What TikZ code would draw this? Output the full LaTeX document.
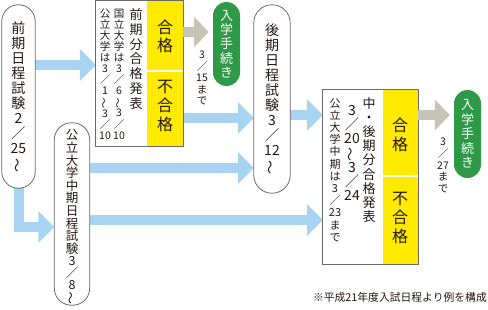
\documentclass[tikz,border=0pt]{standalone}
\usepackage{fontspec}
\setmainfont{Noto Sans CJK JP}
\usepackage{graphicx}
\usetikzlibrary{arrows.meta}
\definecolor{bluec}{HTML}{A8D4F2}
\definecolor{grayc}{HTML}{C5C4B6}
\definecolor{yel}{HTML}{FFEA00}
\definecolor{grn}{HTML}{2E9A47}
\definecolor{edgec}{HTML}{6A6A6A}
\definecolor{txt}{HTML}{231815}
\newcommand{\tld}{\rotatebox[origin=c]{90}{～}}
\newcommand{\myfs}[2]{\fontsize{#1}{#2}\selectfont\lineskiplimit=-20pt\lineskip=0pt}
\begin{document}
\begin{tikzpicture}[x=1pt,y=-1pt,
  box/.style={draw=edgec, line width=0.8pt, fill=white, inner sep=0pt, rectangle},
  gpill/.style={fill=grn, inner sep=0pt, rectangle, rounded corners=13.5pt, minimum width=27pt},
  yelbox/.style={fill=yel, inner sep=0pt, rectangle, minimum width=36pt},
  vt/.style={inner sep=0pt, align=center, text=txt},
  bluearr/.style={draw=bluec, line width=10pt, -{Triangle[length=16pt,width=31pt]}},
  grayarr/.style={draw=grayc, line width=10pt, -{Triangle[length=15pt,width=30pt]}, shorten >=4pt}]
\useasboundingbox (0,0) rectangle (488,309);

% box placeholders (for names)
\path node[minimum width=33pt, minimum height=183pt, inner sep=0pt] (A) at (18.5,96.5) {};
\path node[minimum width=35pt, minimum height=182pt, inner sep=0pt] (B) at (72,214) {};
\path node[minimum width=87pt, minimum height=145pt, inner sep=0pt] (C) at (139.5,73.5) {};
\path node[minimum width=36pt, minimum height=188pt, inner sep=0pt] (D) at (272,99) {};
\path node[minimum width=95pt, minimum height=174pt, inner sep=0pt] (E) at (370.5,177) {};

% arrows (below boxes)
\draw[bluearr] (A.east |- 0,65) -- (C.west |- 0,65);
\draw[bluearr] (C.east |- 0,118) -- (D.west |- 0,118);
\draw[bluearr] (B.east |- 0,168) -- (D.west |- 0,168);
\draw[bluearr] (D.east |- 0,115) -- (E.west |- 0,115);
\draw[bluearr] (B.east |- 0,220) -- (E.west |- 0,220);
\draw[bluearr] (A.south) |- (B.west |- 0,227);

% boxes
\draw[box, rounded corners=16.5pt] (A.north west) rectangle (A.south east);
\draw[box, rounded corners=17pt] (B.north west) rectangle (B.south east);
\draw[box, rounded corners=18pt] (D.north west) rectangle (D.south east);
\draw[box] (C.north west) rectangle (C.south east);
\draw[box] (E.north west) rectangle (E.south east);

% yellow parts
\node[yelbox, minimum height=145pt] (Cy) at (165,73.5) {};
\draw[white, line width=1.5pt] (Cy.west |- 0,71) -- (Cy.east |- 0,71);
\node[yelbox, minimum height=174pt, minimum width=35pt] (Ey) at (400.5,177) {};
\draw[white, line width=1.5pt] (Ey.west |- 0,176) -- (Ey.east |- 0,176);
\draw[draw=edgec, line width=0.8pt] (C.north west) rectangle (C.south east);
\draw[draw=edgec, line width=0.8pt] (E.north west) rectangle (E.south east);

% green boxes
\node[gpill, minimum height=84pt] (G1) at (226.5,44) {};
\node[gpill, minimum height=88pt] (G2) at (467.5,134) {};

% gray arrows
\draw[grayarr] (C.east |- 0,32) -- (G1.west |- 0,32);
\draw[grayarr] (E.east |- 0,115) -- (G2.west |- 0,115);

% texts
\node[vt, font=\myfs{14}{15}] (tA) at (18.5,97) {前\\期\\日\\程\\試\\験\\2\\／\\25\\\tld};
\node[vt, font=\myfs{14}{15}] (tD) at (272,99) {後\\期\\日\\程\\試\\験\\3\\／\\12\\\tld};
\node[vt, font=\myfs{12.5}{12.6}] (tB) at (72,217) {公\\立\\大\\学\\中\\期\\日\\程\\試\\験\\[-0.5pt]3\\[-0.5pt]／\\[-0.5pt]8\\[-1pt]\tld};

\node[vt, font=\myfs{13}{14.7}] (c1) at (136,59) {前\\期\\分\\合\\格\\発\\表};
\node[vt, font=\myfs{10.5}{11.1}] (c2) at (119,74) {国\\立\\大\\学\\は\\3\\／\\6\\\tld\\3\\／\\10};
\node[vt, font=\myfs{10.5}{11.1}] (c3) at (105,74) {公\\立\\大\\学\\は\\3\\／\\1\\\tld\\3\\／\\10};
\node[vt, font=\myfs{16}{18}] (c4) at (165,36) {合\\格};
\node[vt, font=\myfs{16}{19}] (c5) at (165,106) {不\\合\\格};

\node[vt, font=\myfs{13}{14.1}] (e1) at (369,160) {中\\・\\後\\期\\分\\合\\格\\発\\表};
\node[vt, font=\myfs{14}{14.3}] (e2) at (352,153) {3\\／\\20\\\tld\\3\\／\\24};
\node[vt, font=\myfs{11}{12.2}] (e3) at (335,170) {公\\立\\大\\学\\中\\期\\は\\3\\／\\23\\ま\\で};
\node[vt, font=\myfs{16}{19}] (e4) at (400,135) {合\\格};
\node[vt, font=\myfs{16}{19}] (e5) at (400,218) {不\\合\\格};

\node[vt, text=white, font=\myfs{13}{14.25}] (g1) at (G1) {入\\学\\手\\続\\き};
\node[vt, text=white, font=\myfs{13}{14.5}] (g2) at (G2) {入\\学\\手\\続\\き};

\node[vt, font=\myfs{10.5}{11.5}] (d1) at (202,78) {3\\／\\15\\ま\\で};
\node[vt, font=\myfs{10.5}{11.75}] (d2) at (443,165.5) {3\\／\\27\\ま\\で};

\node[inner sep=0pt, text=txt, font=\myfs{10.8}{12}, anchor=east] (note) at (487,297) {※平成21年度入試日程より例を構成};
\end{tikzpicture}
\end{document}
